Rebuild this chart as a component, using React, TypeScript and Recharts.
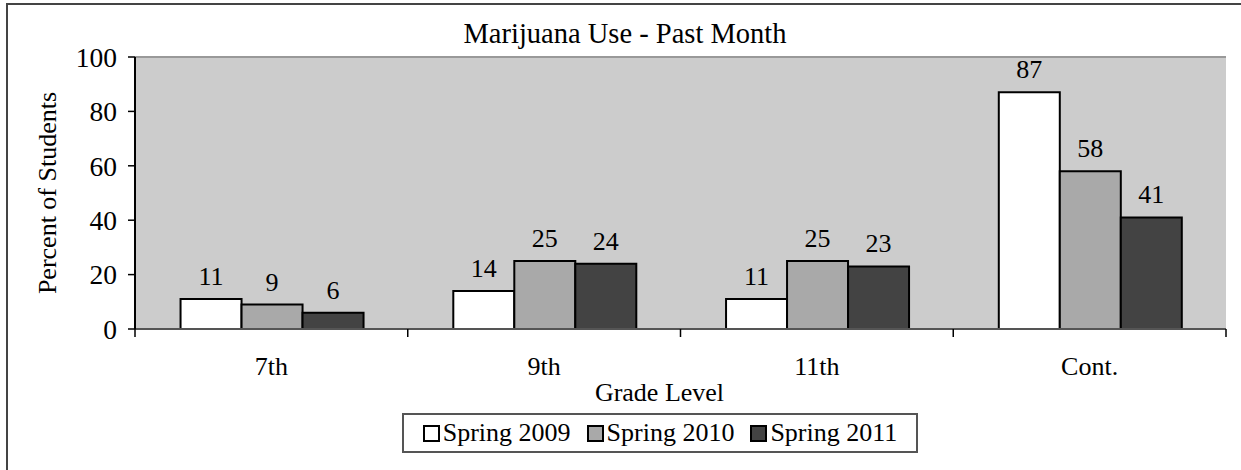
import React from 'react';
import {
  Bar,
  BarChart,
  CartesianGrid,
  LabelList,
  Legend,
  ReferenceLine,
  XAxis,
  YAxis,
} from 'recharts';

const FONT = "'Liberation Serif', 'Times New Roman', serif";

// Valeurs (pourcentage d'élèves)
const grades = ['7th', '9th', '11th', 'Cont.'];
const spring2009 = [11, 14, 11, 87];
const spring2010 = [9, 25, 25, 58];
const spring2011 = [6, 24, 23, 41];
const yTicks = [0, 20, 40, 60, 80, 100];

const SERIES = [
  { key: 'Spring 2009', fill: '#FFFFFF' },
  { key: 'Spring 2010', fill: '#A9A9A9' },
  { key: 'Spring 2011', fill: '#434343' },
];

const data = grades.map((g, i) => ({
  grade: g,
  'Spring 2009': spring2009[i],
  'Spring 2010': spring2010[i],
  'Spring 2011': spring2011[i],
}));

// Tick façon Excel : trait entre les catégories, libellé au centre.
function GradeTick(props: any) {
  const { x, y, payload, index } = props;
  const half = payload.offset || 0;
  return (
    <g>
      <line x1={x - half} x2={x - half} y1={y} y2={y + 8} stroke="#000" strokeWidth={1.5} />
      {index === grades.length - 1 && (
        <line x1={x + half} x2={x + half} y1={y} y2={y + 8} stroke="#000" strokeWidth={1.5} />
      )}
      <text x={x} y={y + 46} textAnchor="middle" fontSize={26} fontFamily={FONT} fill="#000">
        {payload.value}
      </text>
    </g>
  );
}

function LegendBox(props: any) {
  const { payload = [] } = props;
  return (
    <div
      style={{
        boxSizing: 'border-box',
        width: '100%',
        height: '100%',
        border: '2px solid #555',
        display: 'flex',
        alignItems: 'center',
        justifyContent: 'center',
        gap: 16,
        fontFamily: FONT,
        fontSize: 26,
        color: '#000',
        background: '#fff',
      }}
    >
      {payload.map((p: any) => (
        <span key={p.value} style={{ display: 'flex', alignItems: 'center' }}>
          <span
            style={{
              display: 'inline-block',
              boxSizing: 'border-box',
              width: 17,
              height: 17,
              border: '2px solid #000',
              background: p.color,
              marginRight: 3,
            }}
          />
          {p.value}
        </span>
      ))}
    </div>
  );
}

export default function App() {
  return (
    <div
      style={{
        position: 'fixed',
        left: 0,
        top: 0,
        width: 1241,
        height: 470,
        overflow: 'hidden',
        background: '#fff',
      }}
    >
      <div
        style={{
          position: 'absolute',
          left: 6,
          top: 3,
          width: 1300,
          height: 520,
          border: '2px solid #444',
        }}
      />
      <svg width={1241} height={470} style={{ position: 'absolute', left: 0, top: 0 }}>
        <text x={625} y={43} textAnchor="middle" fontSize={28.5} fontFamily={FONT} fill="#000">
          Marijuana Use - Past Month
        </text>
      </svg>
      <div style={{ position: 'absolute', left: 0, top: 0 }}>
        <BarChart
          width={1241}
          height={470}
          data={data}
          margin={{ top: 57, right: 15, left: 35, bottom: 81 }}
          barCategoryGap="16.7%"
          barGap={0}
        >
          <CartesianGrid horizontal={false} vertical={false} fill="#CCCCCC" />
          <ReferenceLine y={100} stroke="#999" strokeWidth={2} />
          <XAxis
            dataKey="grade"
            height={60}
            tickSize={0}
            tickMargin={0}
            tickLine={false}
            tick={<GradeTick />}
            axisLine={{ stroke: '#555', strokeWidth: 2 }}
            label={(p: any) => {
              const vb = p.viewBox;
              return (
                <text
                  x={vb.x + vb.width / 2 - 21}
                  y={vb.y + 72}
                  textAnchor="middle"
                  fontSize={26}
                  fontFamily={FONT}
                  fill="#000"
                >
                  Grade Level
                </text>
              );
            }}
          />
          <YAxis
            width={100}
            domain={[0, 100]}
            ticks={yTicks}
            interval={0}
            tickSize={7}
            tickMargin={11}
            tick={{ fontSize: 27.5, fontFamily: FONT, fill: '#000' }}
            tickLine={{ stroke: '#000', strokeWidth: 1.5 }}
            axisLine={{ stroke: '#000', strokeWidth: 2 }}
            label={(p: any) => {
              const vb = p.viewBox;
              const cx = vb.x + 12;
              const cy = vb.y + vb.height / 2;
              return (
                <text
                  x={cx}
                  y={cy}
                  transform={`rotate(-90 ${cx} ${cy})`}
                  textAnchor="middle"
                  dominantBaseline="central"
                  fontSize={26}
                  fontFamily={FONT}
                  fill="#000"
                >
                  Percent of Students
                </text>
              );
            }}
          />
          <YAxis
            yAxisId="right"
            orientation="right"
            width={0}
            domain={[0, 100]}
            type="number"
            tick={false}
            tickLine={false}
            axisLine={{ stroke: '#999', strokeWidth: 2 }}
          />
          <Legend
            layout="horizontal"
            verticalAlign="middle"
            align="center"
            wrapperStyle={{ left: 402, top: 413, width: 516, height: 40 }}
            content={<LegendBox />}
          />
          {SERIES.map((s) => (
            <Bar
              key={s.key}
              dataKey={s.key}
              fill={s.fill}
              stroke="#000"
              strokeWidth={2}
              isAnimationActive={false}
            >
              <LabelList
                dataKey={s.key}
                position="top"
                offset={14}
                fontSize={26}
                fontFamily={FONT}
                fill="#000"
              />
            </Bar>
          ))}
        </BarChart>
      </div>
    </div>
  );
}
